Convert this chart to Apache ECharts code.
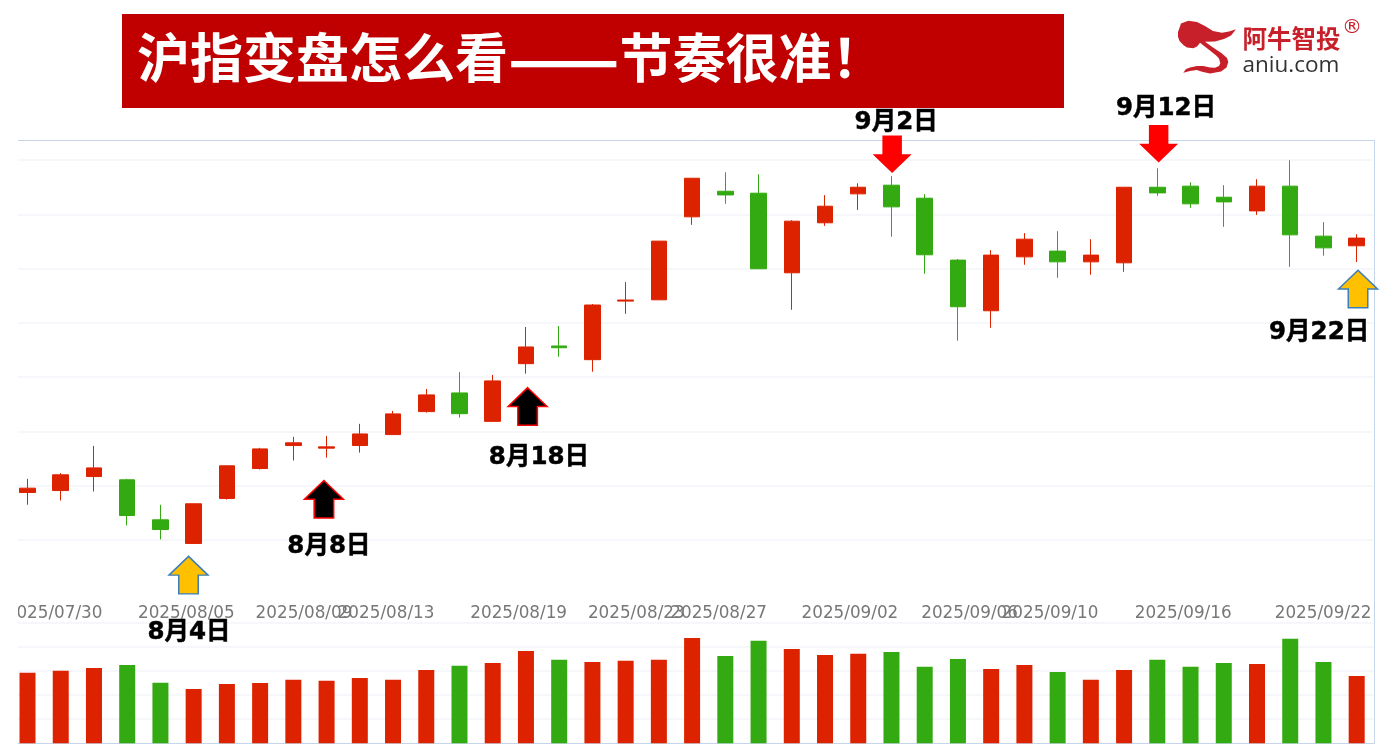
<!DOCTYPE html>
<html><head><meta charset="utf-8">
<style>html,body{margin:0;padding:0;background:#fff}#c{width:1393px;height:756px}</style>
<script src="https://cdn.jsdelivr.net/npm/echarts@6/dist/echarts.min.js"></script>
</head><body><div id="c"></div>
<script>
const dates=['07/28','07/29','07/30','07/31','08/01','08/04','08/05','08/06','08/07','08/08','08/11','08/12','08/13','08/14','08/15','08/18','08/19','08/20','08/21','08/22','08/25','08/26','08/27','08/28','08/29','09/01','09/02','09/03','09/04','09/05','09/08','09/09','09/10','09/11','09/12','09/15','09/16','09/17','09/18','09/19','09/22'].map(d=>'2025/'+d);
const opens=[3593.6,3595.4,3608.3,3605.3,3568.4,3546.6,3588.1,3615.7,3636.9,3634.5,3636.9,3647,3668.2,3685.4,3659.2,3712.4,3728.7,3716.1,3770.1,3771.3,3847.8,3871.4,3869.6,3796.2,3842.3,3869,3877,3865,3807.9,3761.2,3810.9,3816.2,3806.3,3805.4,3875.1,3876.1,3865.9,3853.3,3876.1,3830,3821.1];
const closes=[3597.6,3609.9,3616.3,3572.4,3559.5,3583.2,3618.2,3633.8,3639.4,3635.7,3647.6,3666.1,3683.6,3666.3,3696.5,3727.8,3727.1,3766.5,3771.1,3825.4,3883.4,3868,3799.9,3843.8,3857.6,3875.1,3857,3812.8,3764.9,3812.5,3827.2,3806.3,3812.5,3875.1,3869.9,3859.8,3861.6,3876.1,3831.2,3819.2,3828.2];
const lows=[3582.3,3586.2,3594.5,3563.2,3550.3,3546.6,3587.1,3614.8,3623.1,3625.8,3630.4,3647,3667.3,3662.7,3658.7,3703.2,3718.8,3705,3758.4,3771.3,3840.4,3859.8,3799.9,3762.1,3839.5,3854.2,3829.4,3795.3,3733.6,3745.5,3803.6,3791.6,3794.4,3797.1,3867.1,3856.1,3838.6,3849.6,3801.7,3811.9,3806.1];
const highs=[3606.2,3611.5,3636.6,3606.2,3582.3,3583.2,3618.2,3634.8,3644.9,3645.8,3656.9,3668.8,3689.1,3704.7,3702,3746.2,3747.1,3767.4,3787.6,3825.4,3883.4,3888.9,3887.1,3844.7,3867.8,3878.8,3885.3,3868.7,3808.8,3817.1,3832.8,3834.6,3827.2,3875.1,3892.6,3879.7,3877,3882.5,3900,3842.9,3831.8];
const volumes=[293,301,312,325,251,225,246,250,263,259,271,263,304,321,333,383,346,337,342,346,437,362,425,391,366,371,379,317,350,308,325,296,263,304,346,317,333,329,433,337,279];
const tickLabels=['2025/07/30','2025/08/05','2025/08/09','2025/08/13','2025/08/19','2025/08/23','2025/08/27','2025/09/02','2025/09/06','2025/09/10','2025/09/16','2025/09/22'];
const tickSlots=[0.80,4.78,8.32,10.79,14.78,18.32,20.80,24.75,28.35,30.77,34.78,38.99];
const noteTexts=['8月4日','8月8日','8月18日','9月2日','9月12日','9月22日'];
const noteSlots=[4.86,9.07,15.39,26.14,34.26,38.87];
const noteLevels=[3464.5,3544,3626,3934.5,3947.4,3741.1];
const arrowKinds=['gold','black','black','down','down','gold'];
const arrowSlots=[4.845,8.92,15.05,26.02,34.04,40.04];
const arrowLevels=[3517.4,3587.3,3673,3905.5,3915.2,3781.2];

const RED='#dd2200',GREEN='#33aa11',GRID='#f3f5f9',FRAME='#c6d6ea',BRAND='#c8202a';
const UP='path://M20,0 L40,20 L30,20 L30,40 L10,40 L10,20 L0,20 Z';
const DOWN='path://M10,0 L30,0 L30,20 L40,20 L20,40 L0,20 L10,20 Z';
const arrowStyle={gold:{path:UP,fill:'#ffc000',stroke:'#3d7fbb',bw:1.5},black:{path:UP,fill:'#000',stroke:'#ff0000',bw:1.5},down:{path:DOWN,fill:'#ff0000',stroke:'#ff0000',bw:0}};
const plotL=10.9,plotW=1362.4;
const chart=echarts.init(document.getElementById('c'),null,{renderer:'canvas'});
const cjk='"Noto Sans CJK SC","DejaVu Sans",sans-serif';
const logoShape=[[1178,32],[1181,23.5],[1188.3,20.7],[1197,22],[1205,26],[1213,31],[1222,32.8],[1229,31.5],[1236,29.3],[1231,35.5],[1224,39],[1215,41.5],[1205,41.7],[1213,47.5],[1221.7,53.3],[1227,58],[1228.3,62],[1226.5,67.5],[1221,71.5],[1210,73.6],[1203,72],[1196.7,70],[1190,71],[1183.3,72.7],[1186,69],[1190,67.5],[1197,66],[1203.3,66],[1210,67.5],[1215,67.8],[1219,66],[1220.3,63.3],[1219,58.5],[1216.2,55.5],[1208,49],[1200,42.7],[1197,46.5],[1193.3,48.3],[1187,47.5],[1183.3,45],[1179.5,41],[1178,36.7]];
chart.setOption({
 animation:false,backgroundColor:'#fff',
 title:{left:132,top:20,z:6,
  text:'{a|沪指变盘怎么看}{d|——}{a|节奏很准！}',
  textStyle:{rich:{a:{color:'#fff',fontWeight:'bold',fontSize:53,fontFamily:cjk},d:{color:'#fff',fontWeight:'bold',fontSize:65.5,fontFamily:cjk}}}},
 grid:[{left:plotL,width:plotW,top:140.5,height:453.5},{left:plotL,width:plotW,top:622.7,height:120.6}],
 xAxis:[
  {type:'category',gridIndex:0,data:dates,axisLine:{show:false},axisTick:{show:false},axisLabel:{show:false},splitLine:{show:false}},
  {type:'category',gridIndex:1,data:dates,axisLine:{show:false},axisTick:{show:false},axisLabel:{show:false},splitLine:{show:false}},
  {type:'value',gridIndex:0,min:-0.5,max:40.5,position:'bottom',axisLine:{show:false},axisTick:{show:false},splitLine:{show:false},
   axisLabel:{customValues:tickSlots,margin:11,hideOverlap:false,color:'#777',fontSize:16.8,fontFamily:'"DejaVu Sans",sans-serif',
    formatter:v=>tickLabels[tickSlots.indexOf(v)]}}
 ],
 yAxis:[
  {type:'value',gridIndex:0,min:3500,max:3918.2,interval:50,axisLine:{show:false},axisTick:{show:false},axisLabel:{show:false},
   splitLine:{show:true,showMinLine:false,showMaxLine:false,lineStyle:{color:GRID,width:1.5}}},
  {type:'value',gridIndex:1,min:0,max:500,interval:100,axisLine:{show:false},axisTick:{show:false},axisLabel:{show:false},
   splitLine:{show:true,showMinLine:false,lineStyle:{color:GRID,width:1.5}}}
 ],
 series:[
  {type:'candlestick',name:'K线',xAxisIndex:0,yAxisIndex:0,barWidth:16,
   data:dates.map((d,i)=>[opens[i],closes[i],lows[i],highs[i]]),
   itemStyle:{color:RED,color0:GREEN,borderColor:RED,borderColor0:GREEN,borderWidth:1}},
  {type:'bar',name:'成交量',xAxisIndex:1,yAxisIndex:1,barWidth:16,
   data:volumes.map((v,i)=>({value:v,itemStyle:{color:closes[i]>=opens[i]?RED:GREEN}}))},
  {type:'scatter',name:'箭头',xAxisIndex:2,yAxisIndex:0,clip:false,z:5,
   data:arrowSlots.map((x,i)=>{const s=arrowStyle[arrowKinds[i]];return{value:[x,arrowLevels[i]],symbol:s.path,symbolSize:[39,37.5],
     itemStyle:{color:s.fill,borderColor:s.stroke,borderWidth:s.bw,opacity:1}}})},
  {type:'scatter',name:'标注',xAxisIndex:2,yAxisIndex:0,clip:false,z:6,symbolSize:1,itemStyle:{color:'rgba(0,0,0,0)',opacity:1},
   label:{show:true,position:'inside',color:'#000',textBorderColor:'#000',textBorderWidth:0.5,fontWeight:'bold',fontSize:24.5,fontFamily:'"DejaVu Sans","Noto Sans CJK SC",sans-serif',formatter:p=>p.name},
   data:noteSlots.map((x,i)=>({name:noteTexts[i],value:[x,noteLevels[i]]}))}
 ],
 graphic:[
  {type:'rect',z:1,shape:{x:122,y:14,width:942,height:94},style:{fill:'#c00000'}},
  {type:'polyline',z:1,shape:{points:[[18,140.5],[1374.5,140.5],[1374.5,743.5],[18,743.5]]},style:{stroke:FRAME,lineWidth:1,fill:null}},
  {type:'rect',z:3,shape:{x:0,y:120,width:18,height:636},style:{fill:'#fff'}},
  {type:'polygon',z:1,shape:{points:logoShape},style:{fill:BRAND}},
  {type:'text',z:1,x:1242.5,y:26,style:{text:'阿牛智投',fill:BRAND,font:'bold 24.5px "Noto Sans CJK SC"'}},
  {type:'text',z:1,x:1242.5,y:54,style:{text:'aniu.com',fill:'#333',font:'22.5px "Open Sans"'}},
  {type:'text',z:1,x:1342,y:18,style:{text:'®',fill:BRAND,font:'20px "DejaVu Sans"'}}
 ]
});
</script></body></html>
